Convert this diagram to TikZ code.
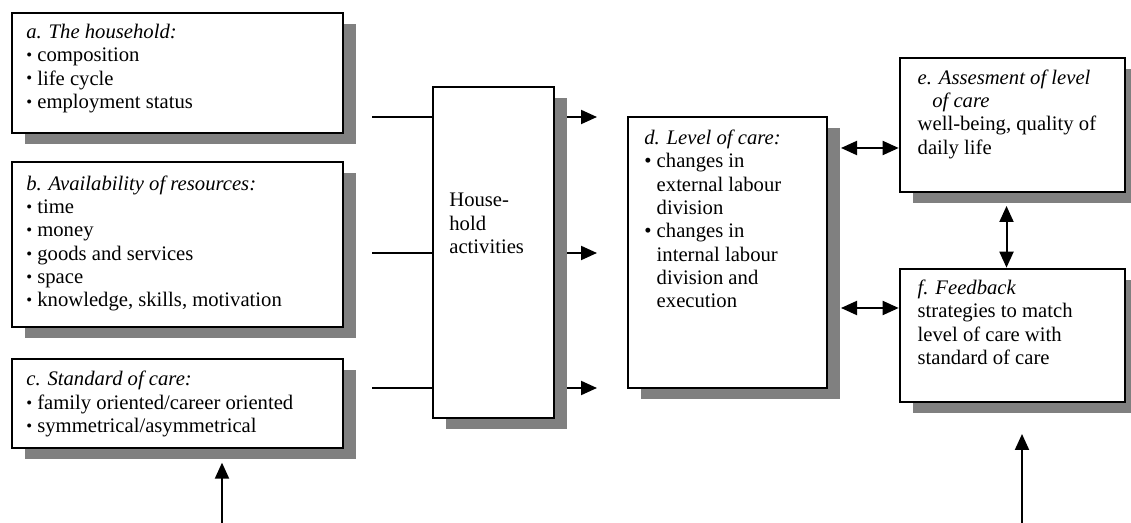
\documentclass[tikz,border=0pt]{standalone}
\usepackage{fontspec}
\setmainfont{Liberation Serif}
\usetikzlibrary{arrows.meta,positioning,fit,shadows}

\newcommand\bul{\raisebox{0.8pt}{\fontsize{12.5}{12.5}\selectfont\textbullet}\ }

\begin{document}
\begin{tikzpicture}[x=0.75pt,y=-0.75pt,>={Triangle[length=12pt,width=10.5pt]},
	line width=1.5pt,
	box node/.style={draw,line width=2pt,fill=white,inner sep=0pt,
		drop shadow={shadow xshift=10pt,shadow yshift=-8.5pt,fill=black!50,opacity=1}},
	text node/.style={inner sep=0pt,align=left,font=\fontsize{15.5}{17.5}\selectfont}]
	
	\useasboundingbox (0,0) rectangle (1131,523);
	
	% left column
	\node[box node,fit={(12,13) (343,133)}] (a) {};
	\node[box node,fit={(12,162) (343,327)}] (b) {};
	\node[box node,fit={(12,359) (343,448)}] (c) {};
	\node[text node,below right=8.5pt and 11pt of a.north west] (a text)
		{\textit{a. The household:}\\\bul composition\\\bul life cycle\\\bul employment status};
	\node[text node,below right=10.5pt and 11pt of b.north west] (b text)
		{\textit{b. Availability of resources:}\\\bul time\\\bul money\\\bul goods and services\\\bul space\\\bul knowledge, skills, motivation};
	\node[text node,below right=9.5pt and 11pt of c.north west] (c text)
		{\textit{c. Standard of care:}\\\bul family oriented/career oriented\\\bul symmetrical/asymmetrical};
	
	% activities and level of care
	\node[box node,fit={(433,87) (554,418)}] (h) {};
	\node[text node,below right=80pt and 12.5pt of h.north west] (h text) {House-\\hold\\activities};
	\node[box node,fit={(628,117) (827,388)}] (d) {};
	\node[text node,below right=10pt and 12.5pt of d.north west] (d text)
		{\textit{d. Level of care:}\\\textbullet\ changes in\\\hphantom{\textbullet\ }external labour\\\hphantom{\textbullet\ }division\\
		\textbullet\ changes in\\\hphantom{\textbullet\ }internal labour\\\hphantom{\textbullet\ }division and\\\hphantom{\textbullet\ }execution};
	
	% right column
	\node[box node,fit={(900,58) (1125,192)}] (e) {};
	\node[box node,fit={(900,269) (1125,402)}] (f) {};
	\node[text node,below right=9pt and 13.5pt of e.north west] (e text)
		{\textit{e. Assesment of level}\\\hspace*{11pt}\textit{of care}\\well-being, quality of\\daily life};
	\node[text node,below right=8.5pt and 13.5pt of f.north west] (f text)
		{\textit{f. Feedback}\\strategies to match\\level of care with\\standard of care};
	
	% inputs and outputs of the activities
	\coordinate (in1) at (372,117);
	\coordinate (in2) at (372,253);
	\coordinate (in3) at (372,388);
	\coordinate (out1) at (597,117);
	\coordinate (out2) at (597,253);
	\coordinate (out3) at (597,388);
	\foreach \i in {1,2,3} {
		\draw (in\i) -- (in\i -| h.west);
		\draw[->] ([xshift=9pt]h.east |- in\i) -- (out\i);
	}
	
	\coordinate (de) at (841,148);
	\coordinate (df) at (841,308);
	\draw[<->] (de) -- (de -| e.west);
	\draw[<->] (df) -- (df -| f.west);
	\draw[<->] ([xshift=-4.5pt,yshift=-9.5pt]e.south) -- ([xshift=-4.5pt]f.north);
	
	\coordinate (cin) at (222,523);
	\coordinate (fin) at (1022,523);
	\draw[->] (cin) -- ([yshift=-10pt]cin |- c.south);
	\draw[->] (fin) -- ([yshift=-23pt]fin |- f.south);
	
\end{tikzpicture}
\end{document}
